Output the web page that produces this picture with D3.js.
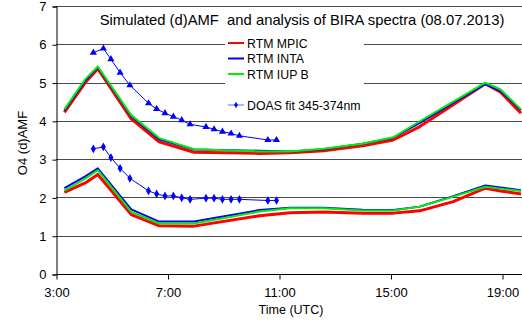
<!DOCTYPE html>
<html><head><meta charset="utf-8">
<script src="https://cdn.jsdelivr.net/npm/d3@7"></script>
<style>body{margin:0;background:#fff}svg{display:block}text{font-family:"Liberation Sans",Arial,sans-serif;fill:#000}</style>
</head><body><svg id="c" width="522" height="326"></svg>
<script>
// ---- data ----
const modelTimes = [3.3, 4.05, 4.5, 5.7, 6.7, 7.95, 10.3, 11.4, 12.6, 14.0, 15.1, 16.05, 17.25, 18.4, 18.95, 19.68];
const mpicUpper = [4.22, 5.00, 5.36, 4.05, 3.45, 3.18, 3.15, 3.17, 3.22, 3.35, 3.50, 3.85, 4.42, 4.97, 4.75, 4.20];
const intaUpper = [4.27, 5.05, 5.40, 4.12, 3.52, 3.25, 3.22, 3.20, 3.26, 3.40, 3.56, 3.95, 4.47, 4.96, 4.78, 4.28];
const iupUpper  = [4.30, 5.09, 5.42, 4.15, 3.55, 3.26, 3.20, 3.20, 3.27, 3.40, 3.57, 3.99, 4.50, 5.00, 4.82, 4.30];
const mpicLower = [2.13, 2.38, 2.60, 1.55, 1.26, 1.25, 1.52, 1.60, 1.62, 1.59, 1.59, 1.65, 1.89, 2.24, 2.17, 2.09];
const intaLower = [2.24, 2.55, 2.76, 1.69, 1.37, 1.37, 1.67, 1.73, 1.73, 1.68, 1.67, 1.76, 2.03, 2.31, 2.26, 2.19];
const iupLower  = [2.18, 2.49, 2.71, 1.62, 1.32, 1.32, 1.63, 1.72, 1.72, 1.66, 1.66, 1.76, 2.02, 2.28, 2.23, 2.17];
const doasTimes = [4.34, 4.70, 4.97, 5.30, 5.65, 6.32, 6.61, 6.91, 7.21, 7.51, 7.81, 8.38, 8.67, 8.97, 9.28, 9.58, 10.60, 10.91];
const doasUpper = [5.78, 5.89, 5.61, 5.26, 4.93, 4.46, 4.31, 4.20, 4.11, 4.02, 3.91, 3.84, 3.78, 3.72, 3.67, 3.61, 3.50, 3.50];
const doasLower = [3.27, 3.32, 3.04, 2.76, 2.50, 2.17, 2.09, 2.04, 2.04, 1.99, 1.95, 1.98, 1.98, 1.95, 1.95, 1.95, 1.92, 1.92];
const xTicks = [3, 7, 11, 15, 19];
const xTickLabels = ["3:00", "7:00", "11:00", "15:00", "19:00"];
const yTicks = [0, 1, 2, 3, 4, 5, 6, 7];
const legendNames = ["RTM MPIC", "RTM INTA", "RTM IUP B"];
const legendColors = ["#ff0000", "#0000ff", "#00ee00"];
const doasName = "DOAS fit 345-374nm";
const titleText = "Simulated (d)AMF  and analysis of BIRA spectra (08.07.2013)";

// ---- chart ----
const svg = d3.select("#c");
const L = 56, R = 522, T = 6, B = 274;
const x = d3.scaleLinear().domain([3, 3 + (R - L) / 27.875]).range([L, R]);
const y = d3.scaleLinear().domain([0, 7]).range([B, T]);

// gridlines
svg.append("g").selectAll("line").data(yTicks.filter(d => d > 0)).join("line")
  .attr("x1", L).attr("x2", R)
  .attr("y1", d => Math.round(y(d)) + 0.5).attr("y2", d => Math.round(y(d)) + 0.5)
  .attr("stroke", "#4a4a4a").attr("stroke-width", 1);

// y axis
const yAxis = d3.axisLeft(y).tickValues(yTicks).tickSize(4).tickPadding(6).tickFormat(d3.format("d"));
const gy = svg.append("g").attr("transform", `translate(${L + 0.5},0.5)`).call(yAxis);
gy.select(".domain").attr("stroke", "#000");
gy.selectAll("text").attr("font-size", 13);

// x axis
const xAxis = d3.axisBottom(x).tickValues(xTicks).tickSize(5).tickPadding(8).tickFormat((d, i) => xTickLabels[i]);
const gx = svg.append("g").attr("transform", `translate(0.5,${B + 0.5})`).call(xAxis);
gx.select(".domain").attr("d", `M${L},0H${R}`).attr("stroke", "#000");
gx.selectAll("text").attr("font-size", 13);

// axis titles
svg.append("text").attr("x", 291).attr("y", 314).attr("text-anchor", "middle").attr("font-size", 12.5).text("Time (UTC)");
svg.append("text").attr("transform", "translate(27,143) rotate(-90)").attr("text-anchor", "middle").attr("font-size", 13).text("O4 (d)AMF");

// model lines
const line = d3.line().x(d => x(d[0])).y(d => y(d[1]));
const models = [
  [mpicUpper, legendColors[0], 3], [mpicLower, legendColors[0], 3],
  [intaUpper, legendColors[1], 2], [intaLower, legendColors[1], 2],
  [iupUpper, legendColors[2], 2], [iupLower, legendColors[2], 2]
];
models.forEach(([vals, col, w]) => {
  svg.append("path").datum(modelTimes.map((t, i) => [t, vals[i]]))
    .attr("d", line).attr("fill", "none").attr("stroke", col).attr("stroke-width", w)
    .attr("stroke-linejoin", "round");
});

// DOAS
const lin = d3.line().x(d => x(d[0])).y(d => y(d[1]));
[[doasUpper, d3.symbolTriangle, 22], [doasLower, d3.symbolDiamond, 22]].forEach(([vals, sym, size]) => {
  const pts = doasTimes.map((t, i) => [t, vals[i]]);
  svg.append("path").datum(pts).attr("d", lin).attr("fill", "none").attr("stroke", "#0000ff").attr("stroke-width", 1);
  svg.append("g").selectAll("path").data(pts).join("path")
    .attr("transform", d => `translate(${x(d[0])},${y(d[1])})`)
    .attr("d", d3.symbol().type(sym).size(size)).attr("fill", "#0000ff");
});

// title
svg.append("text").attr("x", 302).attr("y", 25).attr("text-anchor", "middle").attr("font-size", 14.8)
  .style("white-space", "pre").text(titleText);

// legend
svg.append("rect").attr("x", 225).attr("y", 34).attr("width", 139).attr("height", 80).attr("fill", "#fff");
const lg = svg.append("g");
legendNames.forEach((n, i) => {
  const yy = 43 + i * 15.5;
  lg.append("line").attr("x1", 228).attr("x2", 244).attr("y1", yy).attr("y2", yy).attr("stroke", legendColors[i]).attr("stroke-width", 2);
  lg.append("text").attr("x", 247).attr("y", yy + 4.5).attr("font-size", 12.3).text(n);
});
lg.append("line").attr("x1", 228).attr("x2", 244).attr("y1", 105).attr("y2", 105).attr("stroke", "#9999ff").attr("stroke-width", 1.5);
lg.append("path").attr("transform", "translate(236,105)").attr("d", d3.symbol().type(d3.symbolDiamond).size(12)).attr("fill", "#0000ff");
lg.append("text").attr("x", 247).attr("y", 109.5).attr("font-size", 12.3).text(doasName);
</script></body></html>
